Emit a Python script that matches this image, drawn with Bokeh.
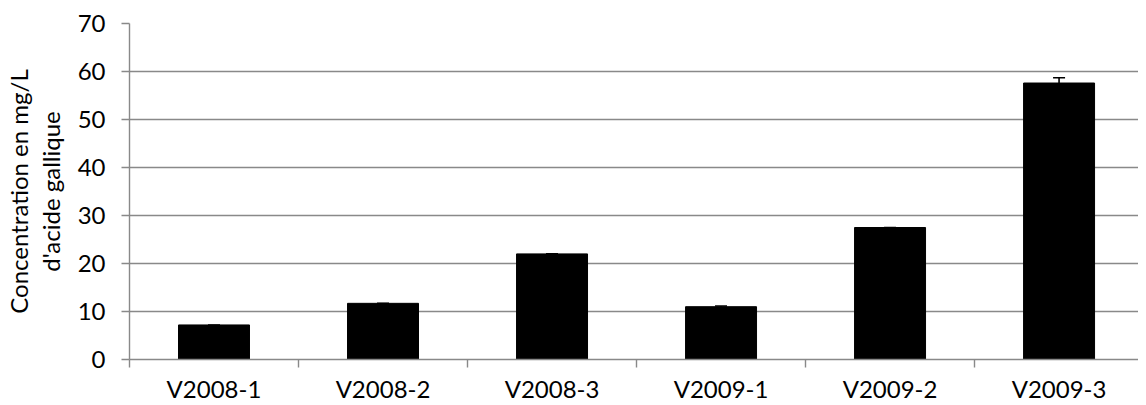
from bokeh.plotting import figure
from bokeh.models import ColumnDataSource, Range1d, FixedTicker, Whisker, TeeHead
from bokeh.embed import file_html
from bokeh.resources import INLINE

categories = ["V2008-1", "V2008-2", "V2008-3", "V2009-1", "V2009-2", "V2009-3"]
values = [7.2, 11.7, 22.0, 11.0, 27.5, 57.6]
errors = [0.0, 0.0, 0.0, 0.15, 0.0, 1.1]
y_ticks = [0, 10, 20, 30, 40, 50, 60, 70]

xs = [i + 0.5 for i in range(len(categories))]
src = ColumnDataSource(dict(
    x=xs, top=values,
    lower=values,
    upper=[v + e for v, e in zip(values, errors)],
))

FONT = "Lato"
GRAY = "#898989"
FS = "24px"

p = figure(width=1138, height=405, output_backend="svg", toolbar_location=None,
           x_range=Range1d(0, 5.97), y_range=Range1d(0, 70),
           min_border_left=120, min_border_right=0, min_border_top=23, min_border_bottom=45)
p.outline_line_color = None
p.background_fill_color = "white"
p.border_fill_color = "white"

p.vbar(x="x", top="top", width=0.42, bottom=0, source=src,
       fill_color="black", line_color="black")
w = Whisker(base="x", lower="lower", upper="upper", source=src, dimension="height",
            line_color="black", line_width=1.6,
            lower_head=None,
            upper_head=TeeHead(size=12, line_color="black", line_width=1.6))
p.add_layout(w)

# x axis
p.xaxis.ticker = FixedTicker(ticks=xs, minor_ticks=list(range(len(categories) + 1)))
p.xaxis.major_label_overrides = {x: c for x, c in zip(xs, categories)}
p.xaxis.major_tick_out = 0
p.xaxis.major_tick_in = 0
p.xaxis.minor_tick_out = 8
p.xaxis.minor_tick_in = 0
p.xaxis.minor_tick_line_color = GRAY
p.xaxis.minor_tick_line_width = 1.4
p.xaxis.axis_line_color = GRAY
p.xaxis.axis_line_width = 1.4
p.xaxis.major_label_text_font = FONT
p.xaxis.major_label_text_font_size = FS
p.xaxis.major_label_text_color = "black"
p.xaxis.major_label_standoff = 6

# y axis
p.yaxis.ticker = FixedTicker(ticks=y_ticks)
p.yaxis.minor_tick_line_color = None
p.yaxis.major_tick_out = 8
p.yaxis.major_tick_in = 0
p.yaxis.major_tick_line_color = GRAY
p.yaxis.major_tick_line_width = 1.4
p.yaxis.axis_line_color = GRAY
p.yaxis.axis_line_width = 1.4
p.yaxis.major_label_text_font = FONT
p.yaxis.major_label_text_font_size = FS
p.yaxis.major_label_text_color = "black"
p.yaxis.major_label_standoff = 16
p.yaxis.axis_label = "Concentration en mg/L\nd'acide gallique"
p.yaxis.axis_label_text_font = FONT
p.yaxis.axis_label_text_font_size = FS
p.yaxis.axis_label_text_font_style = "normal"
p.yaxis.axis_label_text_color = "black"
p.yaxis.axis_label_text_line_height = 1.1
p.yaxis.axis_label_standoff = 10

p.xgrid.grid_line_color = None
p.ygrid.ticker = FixedTicker(ticks=y_ticks)
p.ygrid.grid_line_color = GRAY
p.ygrid.grid_line_width = 1.4

open("out.html", "w").write(file_html(p, INLINE))
